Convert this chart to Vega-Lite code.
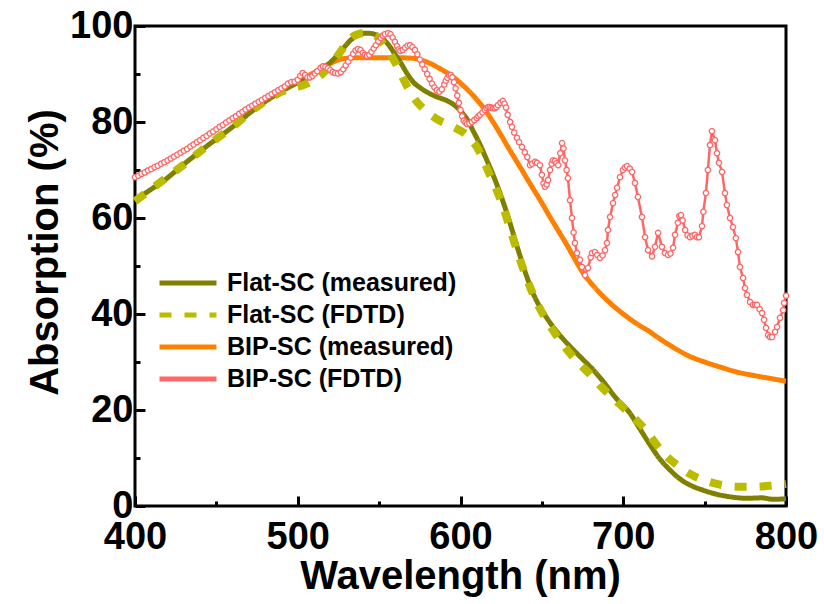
{
  "$schema": "https://vega.github.io/schema/vega-lite/v6.json",
  "width": 651,
  "height": 480,
  "autosize": {"type": "none"},
  "padding": {"left": 135, "top": 26, "right": 38, "bottom": 98},
  "background": "white",
  "config": {
    "font": "Liberation Sans",
    "view": {"stroke": "black", "strokeWidth": 3},
    "axis": {"grid": false, "domain": false, "tickColor": "black", "tickWidth": 3, "labelColor": "black", "titleColor": "black", "labelFontWeight": "bold", "titleFontWeight": "bold", "labelFont": "Liberation Sans", "titleFont": "Liberation Sans"}
  },
  "datasets": {
    "fm": [
      {"s":"FM","wl":400,"a":63.7},{"s":"FM","wl":410,"a":66.0},{"s":"FM","wl":417,"a":67.6},{"s":"FM","wl":430,"a":71.2},{"s":"FM","wl":445,"a":75.2},{"s":"FM","wl":460,"a":79.0},{"s":"FM","wl":474,"a":82.8},{"s":"FM","wl":489,"a":86.2},{"s":"FM","wl":500,"a":88.2},{"s":"FM","wl":510,"a":90.0},{"s":"FM","wl":520,"a":92.4},{"s":"FM","wl":527,"a":95.0},{"s":"FM","wl":533,"a":97.2},{"s":"FM","wl":538,"a":98.2},{"s":"FM","wl":542,"a":98.5},{"s":"FM","wl":546,"a":98.4},{"s":"FM","wl":550,"a":97.8},{"s":"FM","wl":555,"a":96.4},{"s":"FM","wl":560,"a":94.0},{"s":"FM","wl":563,"a":92.5},{"s":"FM","wl":567,"a":90.2},{"s":"FM","wl":571,"a":88.3},{"s":"FM","wl":575,"a":87.2},{"s":"FM","wl":579,"a":86.3},{"s":"FM","wl":585,"a":85.3},{"s":"FM","wl":592,"a":84.4},{"s":"FM","wl":597,"a":83.3},{"s":"FM","wl":600,"a":82.3},{"s":"FM","wl":604,"a":80.6},{"s":"FM","wl":608,"a":78.0},{"s":"FM","wl":612,"a":75.3},{"s":"FM","wl":616,"a":72.2},{"s":"FM","wl":620,"a":69.0},{"s":"FM","wl":625,"a":64.5},{"s":"FM","wl":629,"a":60.5},{"s":"FM","wl":635,"a":53.8},{"s":"FM","wl":640,"a":48.5},{"s":"FM","wl":645,"a":44.0},{"s":"FM","wl":650,"a":40.8},{"s":"FM","wl":655,"a":38.2},{"s":"FM","wl":661,"a":35.6},{"s":"FM","wl":668,"a":33.0},{"s":"FM","wl":675,"a":30.6},{"s":"FM","wl":682,"a":28.2},{"s":"FM","wl":688,"a":25.8},{"s":"FM","wl":695,"a":22.7},{"s":"FM","wl":704,"a":19.4},{"s":"FM","wl":710,"a":16.2},{"s":"FM","wl":716,"a":13.0},{"s":"FM","wl":722,"a":10.0},{"s":"FM","wl":729,"a":7.4},{"s":"FM","wl":735,"a":5.6},{"s":"FM","wl":742,"a":4.2},{"s":"FM","wl":749,"a":3.3},{"s":"FM","wl":758,"a":2.4},{"s":"FM","wl":766,"a":1.9},{"s":"FM","wl":776,"a":1.6},{"s":"FM","wl":785,"a":1.7},{"s":"FM","wl":792,"a":1.4},{"s":"FM","wl":800,"a":1.5}
    ],
    "ff": [
      {"s":"FF","wl":400,"a":63.5},{"s":"FF","wl":417,"a":67.8},{"s":"FF","wl":429.5,"a":71.0},{"s":"FF","wl":445,"a":75.2},{"s":"FF","wl":460,"a":79.0},{"s":"FF","wl":474,"a":82.9},{"s":"FF","wl":490,"a":86.3},{"s":"FF","wl":507.5,"a":88.3},{"s":"FF","wl":515,"a":90.0},{"s":"FF","wl":521.6,"a":92.5},{"s":"FF","wl":527,"a":95.0},{"s":"FF","wl":532,"a":97.3},{"s":"FF","wl":537,"a":98.3},{"s":"FF","wl":542,"a":98.5},{"s":"FF","wl":547.5,"a":98.1},{"s":"FF","wl":553,"a":96.0},{"s":"FF","wl":560,"a":92.3},{"s":"FF","wl":567.7,"a":87.1},{"s":"FF","wl":573,"a":84.3},{"s":"FF","wl":579.4,"a":82.1},{"s":"FF","wl":587,"a":80.3},{"s":"FF","wl":595.4,"a":79.0},{"s":"FF","wl":603,"a":77.5},{"s":"FF","wl":610,"a":74.8},{"s":"FF","wl":618,"a":69.0},{"s":"FF","wl":625.5,"a":63.0},{"s":"FF","wl":633,"a":55.0},{"s":"FF","wl":640,"a":48.0},{"s":"FF","wl":647,"a":42.3},{"s":"FF","wl":655,"a":37.6},{"s":"FF","wl":663,"a":33.6},{"s":"FF","wl":672,"a":30.0},{"s":"FF","wl":680,"a":27.3},{"s":"FF","wl":687.5,"a":24.5},{"s":"FF","wl":694,"a":22.4},{"s":"FF","wl":701,"a":20.2},{"s":"FF","wl":708,"a":17.9},{"s":"FF","wl":714.6,"a":15.5},{"s":"FF","wl":720,"a":13.0},{"s":"FF","wl":726,"a":10.6},{"s":"FF","wl":734,"a":8.3},{"s":"FF","wl":742,"a":6.5},{"s":"FF","wl":753,"a":5.0},{"s":"FF","wl":762,"a":4.3},{"s":"FF","wl":771.7,"a":4.0},{"s":"FF","wl":780,"a":4.0},{"s":"FF","wl":790,"a":4.2},{"s":"FF","wl":800,"a":4.6}
    ],
    "bm": [
      {"s":"BM","wl":400,"a":68.5},{"s":"BM","wl":410,"a":70.2},{"s":"BM","wl":420,"a":72.0},{"s":"BM","wl":430,"a":74.0},{"s":"BM","wl":440,"a":76.2},{"s":"BM","wl":450,"a":78.5},{"s":"BM","wl":460,"a":80.8},{"s":"BM","wl":470,"a":83.0},{"s":"BM","wl":480,"a":85.0},{"s":"BM","wl":490,"a":87.0},{"s":"BM","wl":500,"a":88.6},{"s":"BM","wl":510,"a":90.3},{"s":"BM","wl":520,"a":92.2},{"s":"BM","wl":528,"a":93.2},{"s":"BM","wl":540,"a":93.4},{"s":"BM","wl":550,"a":93.4},{"s":"BM","wl":560,"a":93.4},{"s":"BM","wl":570,"a":93.3},{"s":"BM","wl":575,"a":93.0},{"s":"BM","wl":580,"a":92.4},{"s":"BM","wl":587,"a":91.2},{"s":"BM","wl":595,"a":89.5},{"s":"BM","wl":601,"a":87.8},{"s":"BM","wl":607,"a":85.8},{"s":"BM","wl":614,"a":83.0},{"s":"BM","wl":620,"a":80.0},{"s":"BM","wl":630,"a":74.3},{"s":"BM","wl":637,"a":70.4},{"s":"BM","wl":643,"a":67.0},{"s":"BM","wl":649,"a":63.7},{"s":"BM","wl":655,"a":60.2},{"s":"BM","wl":660,"a":57.4},{"s":"BM","wl":665,"a":54.6},{"s":"BM","wl":670,"a":51.6},{"s":"BM","wl":675,"a":48.7},{"s":"BM","wl":680,"a":46.5},{"s":"BM","wl":690,"a":42.9},{"s":"BM","wl":700,"a":40.0},{"s":"BM","wl":710,"a":37.6},{"s":"BM","wl":715,"a":36.6},{"s":"BM","wl":720,"a":35.4},{"s":"BM","wl":730,"a":33.2},{"s":"BM","wl":740,"a":31.3},{"s":"BM","wl":750,"a":30.0},{"s":"BM","wl":760,"a":28.9},{"s":"BM","wl":770,"a":27.9},{"s":"BM","wl":780,"a":27.2},{"s":"BM","wl":790,"a":26.6},{"s":"BM","wl":800,"a":26.0}
    ],
    "bf": [
      {"s":"BF","wl":400,"a":68.5},{"s":"BF","wl":402,"a":68.8},{"s":"BF","wl":404,"a":69.2},{"s":"BF","wl":406,"a":69.5},{"s":"BF","wl":408,"a":69.9},{"s":"BF","wl":410,"a":70.2},{"s":"BF","wl":412,"a":70.6},{"s":"BF","wl":414,"a":70.9},{"s":"BF","wl":416,"a":71.3},{"s":"BF","wl":418,"a":71.6},{"s":"BF","wl":420,"a":72.0},{"s":"BF","wl":422,"a":72.4},{"s":"BF","wl":424,"a":72.8},{"s":"BF","wl":426,"a":73.2},{"s":"BF","wl":428,"a":73.6},{"s":"BF","wl":430,"a":74.0},{"s":"BF","wl":432,"a":74.4},{"s":"BF","wl":434,"a":74.9},{"s":"BF","wl":436,"a":75.3},{"s":"BF","wl":438,"a":75.8},{"s":"BF","wl":440,"a":76.2},{"s":"BF","wl":442,"a":76.7},{"s":"BF","wl":444,"a":77.1},{"s":"BF","wl":446,"a":77.6},{"s":"BF","wl":448,"a":78.0},{"s":"BF","wl":450,"a":78.5},{"s":"BF","wl":452,"a":79.0},{"s":"BF","wl":454,"a":79.4},{"s":"BF","wl":456,"a":79.9},{"s":"BF","wl":458,"a":80.3},{"s":"BF","wl":460,"a":80.8},{"s":"BF","wl":462,"a":81.2},{"s":"BF","wl":464,"a":81.7},{"s":"BF","wl":466,"a":82.1},{"s":"BF","wl":468,"a":82.6},{"s":"BF","wl":470,"a":83.0},{"s":"BF","wl":472,"a":83.4},{"s":"BF","wl":474,"a":83.8},{"s":"BF","wl":476,"a":84.2},{"s":"BF","wl":478,"a":84.6},{"s":"BF","wl":480,"a":85.0},{"s":"BF","wl":482,"a":85.4},{"s":"BF","wl":484,"a":85.8},{"s":"BF","wl":486,"a":86.2},{"s":"BF","wl":488,"a":86.6},{"s":"BF","wl":490,"a":87.0},
      {"s":"BF","wl":492,"a":87.4},{"s":"BF","wl":494,"a":88.0},{"s":"BF","wl":496,"a":88.3},{"s":"BF","wl":498,"a":88.4},{"s":"BF","wl":500,"a":88.8},{"s":"BF","wl":501.5,"a":89.6},{"s":"BF","wl":503,"a":90.2},{"s":"BF","wl":504.5,"a":89.8},{"s":"BF","wl":506,"a":89.3},{"s":"BF","wl":507.5,"a":89.3},{"s":"BF","wl":509,"a":89.6},{"s":"BF","wl":510.5,"a":90.1},{"s":"BF","wl":512,"a":90.6},{"s":"BF","wl":514,"a":91.3},{"s":"BF","wl":515.5,"a":91.6},{"s":"BF","wl":517,"a":91.5},{"s":"BF","wl":518.5,"a":91.2},{"s":"BF","wl":520,"a":90.8},{"s":"BF","wl":521.5,"a":90.4},{"s":"BF","wl":523,"a":90.2},{"s":"BF","wl":524.7,"a":90.1},{"s":"BF","wl":526.5,"a":90.4},{"s":"BF","wl":528,"a":91.0},{"s":"BF","wl":529.5,"a":91.8},{"s":"BF","wl":531,"a":92.6},{"s":"BF","wl":532.5,"a":93.4},{"s":"BF","wl":534,"a":94.2},{"s":"BF","wl":535.5,"a":94.9},{"s":"BF","wl":537,"a":95.2},{"s":"BF","wl":538.5,"a":95.0},{"s":"BF","wl":540,"a":94.4},{"s":"BF","wl":541.3,"a":94.0},{"s":"BF","wl":542.5,"a":93.8},{"s":"BF","wl":544,"a":94.0},{"s":"BF","wl":545.3,"a":94.6},{"s":"BF","wl":546.7,"a":95.3},{"s":"BF","wl":548,"a":96.0},{"s":"BF","wl":549.5,"a":96.8},{"s":"BF","wl":551,"a":97.5},{"s":"BF","wl":552.3,"a":98.0},{"s":"BF","wl":553.5,"a":98.3},{"s":"BF","wl":555.5,"a":98.5},{"s":"BF","wl":557,"a":98.3},{"s":"BF","wl":558.3,"a":97.6},{"s":"BF","wl":559.7,"a":96.7},{"s":"BF","wl":561,"a":95.8},{"s":"BF","wl":562,"a":95.1},{"s":"BF","wl":563,"a":94.8},{"s":"BF","wl":564.5,"a":95.0},{"s":"BF","wl":566,"a":95.5},{"s":"BF","wl":567.5,"a":95.9},{"s":"BF","wl":569,"a":96.0},{"s":"BF","wl":570.5,"a":95.6},{"s":"BF","wl":572,"a":95.0},{"s":"BF","wl":573.5,"a":94.1},{"s":"BF","wl":575,"a":93.0},{"s":"BF","wl":576.5,"a":92.0},{"s":"BF","wl":578,"a":91.0},{"s":"BF","wl":579.5,"a":90.0},{"s":"BF","wl":581,"a":89.0},{"s":"BF","wl":582.5,"a":88.0},{"s":"BF","wl":584,"a":87.2},{"s":"BF","wl":585.5,"a":86.6},{"s":"BF","wl":587,"a":86.3},{"s":"BF","wl":588.5,"a":86.8},{"s":"BF","wl":590,"a":87.8},{"s":"BF","wl":591,"a":88.6},{"s":"BF","wl":592,"a":89.2},{"s":"BF","wl":593,"a":89.7},{"s":"BF","wl":594,"a":89.8},{"s":"BF","wl":595,"a":89.3},{"s":"BF","wl":596,"a":88.3},{"s":"BF","wl":597,"a":87.0},{"s":"BF","wl":598,"a":85.5},{"s":"BF","wl":599,"a":84.0},{"s":"BF","wl":600,"a":82.5},{"s":"BF","wl":601,"a":81.2},{"s":"BF","wl":602,"a":80.3},{"s":"BF","wl":603,"a":79.9},{"s":"BF","wl":604,"a":79.6},{"s":"BF","wl":605.5,"a":79.7},{"s":"BF","wl":607,"a":80.0},{"s":"BF","wl":608.5,"a":80.4},{"s":"BF","wl":610,"a":80.8},{"s":"BF","wl":611,"a":81.2},{"s":"BF","wl":612,"a":81.5},{"s":"BF","wl":613.5,"a":82.0},{"s":"BF","wl":615,"a":82.5},{"s":"BF","wl":616,"a":82.9},{"s":"BF","wl":617,"a":83.1},{"s":"BF","wl":618,"a":83.1},{"s":"BF","wl":619,"a":83.0},{"s":"BF","wl":620,"a":82.9},{"s":"BF","wl":621,"a":82.9},{"s":"BF","wl":622,"a":83.1},{"s":"BF","wl":623,"a":83.5},{"s":"BF","wl":624.5,"a":84.0},{"s":"BF","wl":626,"a":84.4},{"s":"BF","wl":627,"a":83.8},{"s":"BF","wl":628,"a":83.0},{"s":"BF","wl":629,"a":81.5},{"s":"BF","wl":630.5,"a":80.0},{"s":"BF","wl":631.6,"a":79.0},{"s":"BF","wl":633,"a":77.8},{"s":"BF","wl":634.7,"a":76.7},{"s":"BF","wl":636,"a":75.8},{"s":"BF","wl":637.8,"a":74.8},{"s":"BF","wl":639.5,"a":73.7},{"s":"BF","wl":641,"a":72.7},{"s":"BF","wl":642.7,"a":71.0},{"s":"BF","wl":644,"a":71.3},{"s":"BF","wl":645.8,"a":71.7},{"s":"BF","wl":647,"a":71.5},{"s":"BF","wl":648.8,"a":71.0},{"s":"BF","wl":650,"a":69.0},{"s":"BF","wl":651,"a":67.2},{"s":"BF","wl":651.9,"a":66.5},{"s":"BF","wl":653,"a":67.0},{"s":"BF","wl":653.8,"a":67.9},{"s":"BF","wl":655,"a":70.0},{"s":"BF","wl":656,"a":71.3},{"s":"BF","wl":656.8,"a":72.0},{"s":"BF","wl":658,"a":71.9},{"s":"BF","wl":659,"a":71.4},{"s":"BF","wl":660,"a":71.0},{"s":"BF","wl":661.3,"a":73.5},{"s":"BF","wl":662.4,"a":75.6},{"s":"BF","wl":663.3,"a":74.5},{"s":"BF","wl":664.2,"a":72.0},{"s":"BF","wl":665.2,"a":70.0},{"s":"BF","wl":666,"a":68.3},{"s":"BF","wl":667.3,"a":63.7},{"s":"BF","wl":668.5,"a":60.0},{"s":"BF","wl":669.5,"a":57.0},{"s":"BF","wl":670.3,"a":54.8},{"s":"BF","wl":671.6,"a":52.7},{"s":"BF","wl":673.4,"a":51.3},{"s":"BF","wl":674.7,"a":49.8},{"s":"BF","wl":676.5,"a":48.1},{"s":"BF","wl":678.3,"a":49.6},{"s":"BF","wl":680,"a":51.8},{"s":"BF","wl":680.8,"a":52.7},{"s":"BF","wl":682.6,"a":52.9},{"s":"BF","wl":684,"a":52.3},{"s":"BF","wl":685.7,"a":51.7},{"s":"BF","wl":687.3,"a":52.2},{"s":"BF","wl":688.8,"a":53.3},{"s":"BF","wl":690,"a":54.8},{"s":"BF","wl":690.6,"a":57.5},{"s":"BF","wl":691.9,"a":60.2},{"s":"BF","wl":693.7,"a":63.1},{"s":"BF","wl":695,"a":64.8},{"s":"BF","wl":696.2,"a":66.3},{"s":"BF","wl":698,"a":68.5},{"s":"BF","wl":699.8,"a":70.0},{"s":"BF","wl":701,"a":70.5},{"s":"BF","wl":702.3,"a":70.8},{"s":"BF","wl":704,"a":70.3},{"s":"BF","wl":705.4,"a":69.6},{"s":"BF","wl":707.2,"a":67.3},{"s":"BF","wl":709,"a":64.4},{"s":"BF","wl":711.5,"a":60.2},{"s":"BF","wl":713.4,"a":56.0},{"s":"BF","wl":715.2,"a":53.3},{"s":"BF","wl":717.7,"a":52.0},{"s":"BF","wl":719.5,"a":54.0},{"s":"BF","wl":721.4,"a":56.9},{"s":"BF","wl":723.8,"a":54.0},{"s":"BF","wl":725.6,"a":52.7},{"s":"BF","wl":727.5,"a":52.3},{"s":"BF","wl":729,"a":52.6},{"s":"BF","wl":730.6,"a":53.8},{"s":"BF","wl":731.8,"a":56.5},{"s":"BF","wl":733.6,"a":59.0},{"s":"BF","wl":734.5,"a":60.4},{"s":"BF","wl":735.5,"a":60.6},{"s":"BF","wl":736.5,"a":59.5},{"s":"BF","wl":738,"a":57.5},{"s":"BF","wl":739.5,"a":56.4},{"s":"BF","wl":741,"a":56.0},{"s":"BF","wl":742.5,"a":56.3},{"s":"BF","wl":744,"a":56.5},{"s":"BF","wl":745.3,"a":56.0},{"s":"BF","wl":746.5,"a":56.0},{"s":"BF","wl":748.4,"a":58.3},{"s":"BF","wl":749.2,"a":61.3},{"s":"BF","wl":750.8,"a":65.2},{"s":"BF","wl":752,"a":70.0},{"s":"BF","wl":753.3,"a":75.2},{"s":"BF","wl":754.5,"a":78.1},{"s":"BF","wl":756.4,"a":76.2},{"s":"BF","wl":757.6,"a":73.5},{"s":"BF","wl":758.8,"a":71.5},{"s":"BF","wl":760.7,"a":69.6},{"s":"BF","wl":762.5,"a":65.2},{"s":"BF","wl":763.7,"a":62.7},{"s":"BF","wl":765.6,"a":60.0},{"s":"BF","wl":767.4,"a":58.1},{"s":"BF","wl":769.2,"a":55.8},{"s":"BF","wl":770.5,"a":52.9},{"s":"BF","wl":771.7,"a":49.8},{"s":"BF","wl":773.6,"a":47.5},{"s":"BF","wl":774.8,"a":45.4},{"s":"BF","wl":776,"a":44.0},{"s":"BF","wl":777.9,"a":42.5},{"s":"BF","wl":779.7,"a":41.9},{"s":"BF","wl":781,"a":41.9},{"s":"BF","wl":782.2,"a":41.9},{"s":"BF","wl":783.8,"a":41.0},{"s":"BF","wl":785.3,"a":40.2},{"s":"BF","wl":786.5,"a":38.8},{"s":"BF","wl":787.7,"a":37.1},{"s":"BF","wl":789,"a":35.6},{"s":"BF","wl":790.2,"a":35.2},{"s":"BF","wl":791.4,"a":35.2},{"s":"BF","wl":793.3,"a":36.3},{"s":"BF","wl":794.5,"a":37.3},{"s":"BF","wl":796.3,"a":39.2},{"s":"BF","wl":798.2,"a":40.8},{"s":"BF","wl":798.8,"a":42.3},{"s":"BF","wl":800,"a":43.8}
    ]
  },
  "encoding": {
    "x": {
      "field": "wl", "type": "quantitative",
      "scale": {"domain": [400, 800], "nice": false, "zero": false},
      "axis": {
        "title": "Wavelength (nm)", "titleFontSize": 40, "labelFontSize": 38,
        "values": [400, 450, 500, 550, 600, 650, 700, 750, 800],
        "labelExpr": "datum.value % 100 === 0 ? datum.label : ''",
        "tickSize": {"condition": {"test": "datum.value % 100 === 0", "value": -10}, "value": -5},
        "labelPadding": 22, "labelFlush": false, "labelOverlap": false,
        "titleX": 325, "titleY": 70, "titleBaseline": "middle"
      }
    },
    "y": {
      "field": "a", "type": "quantitative",
      "scale": {"domain": [0, 100], "nice": false},
      "axis": {
        "title": "Absorption (%)", "titleFontSize": 40, "labelFontSize": 38,
        "values": [0, 10, 20, 30, 40, 50, 60, 70, 80, 90, 100],
        "labelExpr": "datum.value % 20 === 0 ? datum.label : ''",
        "tickSize": {"condition": {"test": "datum.value % 20 === 0", "value": -10}, "value": -5},
        "labelPadding": 12, "labelFlush": false, "labelOverlap": false,
        "titleX": -90, "titleY": 226, "titleBaseline": "middle", "titleAngle": -90
      }
    },
    "color": {
      "field": "s", "type": "nominal",
      "scale": {"domain": ["FM", "FF", "BM", "BF"], "range": ["#808000", "#BBBB00", "#FF8000", "#FF6666"]},
      "legend": {
        "title": null, "orient": "none", "legendX": 22, "legendY": 244, "padding": 0,
        "symbolType": "stroke", "symbolSize": 3249, "symbolStrokeWidth": 5,
        "labelFontSize": 25, "labelFontWeight": "bold", "labelColor": "black", "labelFont": "Liberation Sans", "labelLimit": 0,
        "labelOffset": 8, "rowPadding": 6, "clipHeight": 26,
        "labelExpr": "datum.value === 'FM' ? 'Flat-SC (measured)' : datum.value === 'FF' ? 'Flat-SC (FDTD)' : datum.value === 'BM' ? 'BIP-SC (measured)' : 'BIP-SC (FDTD)'"
      }
    },
    "strokeDash": {
      "field": "s", "type": "nominal",
      "scale": {"domain": ["FM", "FF", "BM", "BF"], "range": [[1, 0], [12, 13], [1, 0], [1, 0]]}
    }
  },
  "layer": [
    {
      "data": {"name": "bm"},
      "mark": {"type": "line", "strokeWidth": 5, "interpolate": "monotone"}
    },
    {
      "data": {"name": "fm"},
      "mark": {"type": "line", "strokeWidth": 5, "interpolate": "monotone"}
    },
    {
      "data": {"name": "ff"},
      "mark": {"type": "line", "strokeWidth": 8, "strokeCap": "butt", "interpolate": "monotone"}
    },
    {
      "data": {"name": "bf"},
      "mark": {"type": "line", "strokeWidth": 2.5}
    },
    {
      "data": {"name": "bf"},
      "mark": {"type": "point", "shape": "circle", "filled": false, "fill": "white", "fillOpacity": 1, "size": 28, "strokeWidth": 1.3, "opacity": 1}
    }
  ]
}
